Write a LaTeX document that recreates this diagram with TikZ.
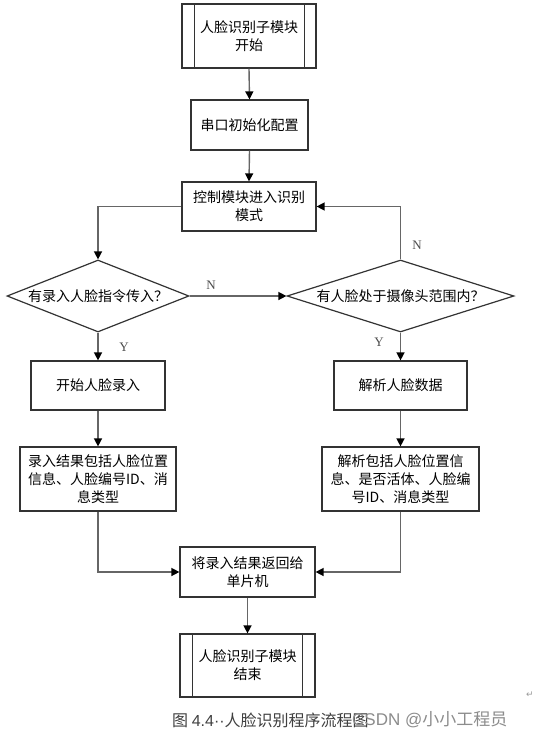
\documentclass[tikz,border=0pt]{standalone}
\usepackage{fontspec}
\setmainfont{Noto Sans CJK SC}
\newfontfamily\latinserif{Liberation Serif}
\newfontfamily\latinsans{Liberation Sans}
\newfontfamily\symfont{DejaVu Sans}
\usetikzlibrary{shapes.geometric,arrows.meta}
\begin{document}
\begin{tikzpicture}[x=1pt,y=-1pt,
  every node/.style={font=\fontsize{14pt}{18pt}\selectfont, text=black},
  procbox/.style={draw=black!80, line width=1.2pt, rectangle, align=center, inner sep=0pt},
  decbox/.style={draw=black!80, line width=1.2pt, diamond, inner sep=0pt, align=center},
  conn/.style={draw=black!60, line width=1.4pt, -{Triangle[length=8pt,width=8pt,color=black]}},
  lbl/.style={font=\latinserif\fontsize{13pt}{14pt}\selectfont, text=black!70},
  sublines/.style={draw=black!80, line width=1.2pt}]
\useasboundingbox (0,0) rectangle (537,738);
\fill[white] (0,0) rectangle (537,738);

\node[procbox, minimum width=134pt, minimum height=64pt] (start) at (249,36) {人脸识别子模块\\开始};
\node[procbox, minimum width=117pt, minimum height=50pt] (serial) at (249.5,125) {串口初始化配置};
\node[procbox, minimum width=134pt, minimum height=49pt] (ctrl) at (249,206.5) {控制模块进入识别\\模式};
\node[decbox, aspect=2.5, minimum width=182pt, minimum height=72pt] (d1) at (98,296) {有录入人脸指令传入？};
\node[decbox, aspect=3.15, minimum width=227pt, minimum height=72pt] (d2) at (400.5,296) {有人脸处于摄像头范围内？};
\node[procbox, minimum width=134pt, minimum height=49pt] (enroll) at (98,385.5) {开始人脸录入};
\node[procbox, minimum width=133pt, minimum height=49pt] (parse) at (400.5,385.5) {解析人脸数据};
\node[procbox, minimum width=156pt, minimum height=64pt] (res1) at (98,479) {录入结果包括人脸位置\\信息、人脸编号ID、消\\息类型};
\node[procbox, minimum width=157pt, minimum height=64pt] (res2) at (400.5,479) {解析包括人脸位置信\\息、是否活体、人脸编\\号ID、消息类型};
\node[procbox, minimum width=135pt, minimum height=50pt] (ret) at (247.5,572) {将录入结果返回给\\单片机};
\node[procbox, minimum width=135pt, minimum height=63pt] (stop) at (247.5,665.5) {人脸识别子模块\\结束};

% inner lines of predefined-process boxes
\draw[sublines] ([xshift=13pt]start.north west) -- ([xshift=13pt]start.south west);
\draw[sublines] ([xshift=-12pt]start.north east) -- ([xshift=-12pt]start.south east);
\draw[sublines] ([xshift=13pt]stop.north west) -- ([xshift=13pt]stop.south west);
\draw[sublines] ([xshift=-13pt]stop.north east) -- ([xshift=-13pt]stop.south east);

% connectors
\draw[conn] (start.south) -- (serial.north);
\draw[conn] (serial.south) -- (ctrl.north);
\draw[conn] (ctrl.west) -| (d1.north);
\draw[conn] (d1.east) -- (d2.west);
\draw[conn] (d2.north) |- (ctrl.east);
\draw[conn] (d1.south) -- (enroll.north);
\draw[conn] (d2.south) -- (parse.north);
\draw[conn] (enroll.south) -- (res1.north);
\draw[conn] (parse.south) -- (res2.north);
\draw[conn] (res1.south) |- (ret.west);
\draw[conn] (res2.south) |- (ret.east);
\draw[conn] (ret.south) -- (stop.north);

% labels
\node[lbl] (n1) at (211,285) {N};
\node[lbl] (n2) at (417,245) {N};
\node[lbl] (y1) at (124,347) {Y};
\node[lbl] (y2) at (379,342) {Y};

% caption and watermark
\node[anchor=west, text=black!75, font=\fontsize{16pt}{17pt}\selectfont, inner sep=0pt] (cap) at (172,720) {图 {\latinsans 4.4··}人脸识别程序流程图};
\node[anchor=west, text=black!45, font=\latinsans\fontsize{17pt}{18pt}\selectfont, inner sep=0pt] (wm) at (352,720) {CSDN @{\fontspec{Noto Sans CJK SC}小小工程员}};
\node[text=black!40, font=\symfont\fontsize{9pt}{9pt}\selectfont, inner sep=0pt] (pm) at (530,695) {↵};
\end{tikzpicture}
\end{document}
